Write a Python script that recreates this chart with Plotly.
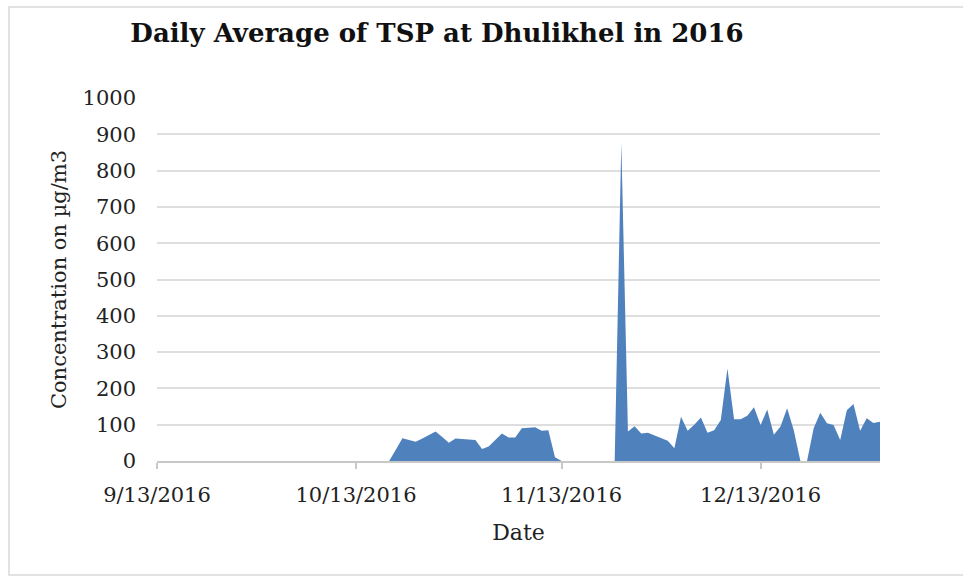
import pandas as pd
import plotly.graph_objects as go

start_date = "2016-09-13"
tsp = [
    0, 0, 0, 0, 0, 0, 0, 0, 0, 0,
    0, 0, 0, 0, 0, 0, 0, 0, 0, 0,
    0, 0, 0, 0, 0, 0, 0, 0, 0, 0,
    0, 0, 0, 0, 0, 0,
    31, 63, 58, 53, 62, 72, 81, 66, 50, 62,
    60, 59, 58, 33, 40, 58, 76, 65, 65, 90,
    92, 93, 83, 85, 10,
    0, 0, 0, 0, 0, 0, 0, 0, 0,
    876, 81, 96, 76, 78, 70, 62, 56, 35, 122,
    83, 100, 120, 78, 85, 113, 255, 115, 115, 125,
    148, 99, 142, 72, 95, 145, 85, 0, 0, 90,
    133, 104, 99, 58, 140, 157, 83, 118, 105, 108,
]
tick_dates = ["2016-09-13", "2016-10-13", "2016-11-13", "2016-12-13"]
tick_labels = ["9/13/2016", "10/13/2016", "11/13/2016", "12/13/2016"]
x_end = "2016-12-31"

dates = pd.date_range(start_date, periods=len(tsp), freq="D")

FONT = "DejaVu Serif"
BLUE = "#4f81bd"
TXT = "#222222"

fig = go.Figure()
fig.add_trace(go.Scatter(
    x=dates, y=tsp, mode="lines", fill="tozeroy",
    line=dict(color=BLUE, width=0), fillcolor=BLUE,
    showlegend=False, hoverinfo="x+y",
))

fig.update_layout(
    width=963, height=576,
    paper_bgcolor="white", plot_bgcolor="white",
    margin=dict(l=157, r=83, t=98, b=115),
    font=dict(family=FONT, color=TXT),
    title=dict(
        text="<b>Daily Average of TSP at Dhulikhel in 2016</b>",
        x=437 / 963, xanchor="center", y=1 - 33 / 576, yanchor="middle",
        xref="container", yref="container",
        font=dict(family=FONT, size=26, color="#111111"),
    ),
    xaxis=dict(
        type="date", range=[start_date, x_end],
        tickmode="array", tickvals=tick_dates, ticktext=tick_labels,
        showgrid=False, showline=True, linecolor="#c8c8c8", linewidth=1.5,
        ticks="outside", ticklen=6, tickcolor="#c8c8c8", tickwidth=1.5,
        ticklabelstandoff=8,
        tickfont=dict(family=FONT, size=21, color=TXT),
        title=dict(text="Date", font=dict(family=FONT, size=22, color=TXT), standoff=19),
        zeroline=False, layer="above traces",
    ),
    yaxis=dict(
        range=[0, 1000], dtick=100, tick0=0,
        showgrid=True, gridcolor="#dedede", gridwidth=1.5,
        showline=False, zeroline=False, ticks="",
        ticklabelstandoff=20,
        tickfont=dict(family=FONT, size=21, color=TXT),
        title=dict(text="Concentration on µg/m3", font=dict(family=FONT, size=21, color=TXT), standoff=10),
    ),
    shapes=[dict(
        type="rect", xref="paper", yref="paper",
        x0=(9 - 157) / 723, x1=1.3, y0=(461 - 575) / 363, y1=(461 - 7) / 363,
        line=dict(color="#d9d9d9", width=1.5), fillcolor="rgba(0,0,0,0)", layer="below",
    )],
)

fig.write_html("out.html", config={"displayModeBar": False},
               post_script="document.body.style.margin='0px';")
